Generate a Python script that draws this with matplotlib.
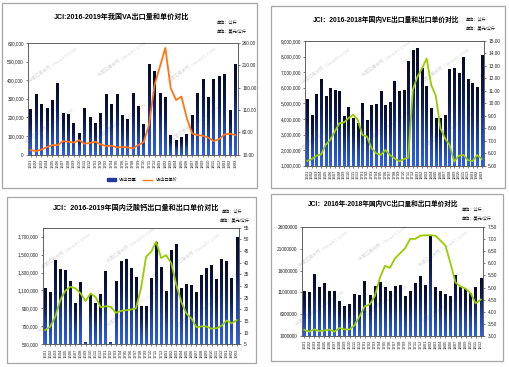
import numpy as np
import matplotlib
matplotlib.use('Agg')
import matplotlib.pyplot as plt
from matplotlib.colors import LinearSegmentedColormap
from matplotlib.patches import Rectangle
from matplotlib.lines import Line2D

plt.rcParams['font.family'] = ['Liberation Sans', 'Noto Sans CJK SC']

W, H = 510, 367

# month labels
months_39 = ['1601', '1602', '1603', '1604', '1605', '1606', '1607', '1608', '1609', '1610', '1611', '1612',
             '1701', '1702', '1703', '1704', '1705', '1706', '1707', '1708', '1709', '1710', '1711', '1712',
             '1801', '1802', '1803', '1804', '1805', '1806', '1807', '1808', '1809', '1810', '1811', '1812',
             '1901', '1902', '1903']
months_36 = months_39[:36]

# VA export volume (kg) and unit price (USD/kg)
va_qty = [245000, 327000, 274000, 250000, 294000, 384000, 222000, 216000, 167000, 117000, 249000, 204000,
          167000, 222000, 326000, 274000, 326000, 211000, 193000, 329000, 263000, 162000, 487000, 449000,
          330000, 308000, 104000, 77000, 92000, 108000, 213000, 330000, 407000, 312000, 407000, 422000,
          432000, 240000, 487000]
va_price = [19.8, 17.5, 21, 26.5, 31, 31, 40, 38.5, 37, 42, 34, 36,
            38.5, 32.5, 29, 29.5, 26, 27, 26, 23.5, 31.5, 38, 78, 166,
            207, 249, 159, 132, 140, 91, 57, 53.5, 52, 47.5, 40, 44.5,
            55, 56.5, 53.5]

# VE export volume and unit price
ve_qty = [5280000, 4270000, 5600000, 6580000, 5500000, 6000000, 5860000, 5780000, 4200000, 4740000,
          4050000, 3750000, 5000000, 3900000, 4870000, 4970000, 5780000, 4900000, 5100000, 6450000,
          5770000, 5860000, 7720000, 8420000, 8530000, 7250000, 6110000, 4720000, 4040000, 4040000,
          4250000, 7180000, 7290000, 6920000, 7990000, 6560000, 6280000, 6070000, 8100000]
ve_price = [5.38, 5.54, 5.8, 5.9, 6.67, 7.07, 7.74, 8.41, 8.47, 8.82, 9.09, 8.68, 7.47, 7.34, 6.4, 6.0,
            5.86, 6.26, 5.86, 5.6, 5.35, 5.53, 5.64, 11.1, 12.14, 12.8, 13.6, 11.47, 10.6, 8.0, 7.2,
            6.66, 5.32, 5.8, 5.86, 5.45, 5.37, 5.86, 5.53]

# calcium pantothenate export volume and unit price
ca_qty = [1123000, 1078000, 1440000, 1336000, 1328000, 1205000, 963000, 1194000, 526000, 1060000,
          963000, 1060000, 1317000, 530000, 1209000, 1433000, 1448000, 1347000, 1246000, 925000,
          925000, 1235000, 1646000, 1358000, 1093000, 1552000, 1619000, 1130000, 1170000, 1157000,
          1078000, 1270000, 1347000, 1384000, 1224000, 1448000, 1429000, 1243000, 1694000]
ca_price = [11.1, 12.6, 16.9, 24, 28, 29.7, 29, 26.9, 23.5, 26.8, 25.2, 20.9, 21.3, 21.1, 18.5, 19.3,
            19.6, 19.9, 20.4, 29, 42.5, 44.6, 49, 42, 43.2, 39.8, 30.5, 23.2, 18.2, 16.1, 12.3, 12.7,
            12.6, 11.7, 11.9, 13, 15.2, 14, 15.4]

# VC export volume and unit price
vc_qty = [11300000, 11150000, 15150000, 12150000, 13100000, 11300000, 11400000, 9000000, 7850000,
          8200000, 10600000, 10400000, 13600000, 10400000, 12500000, 13300000, 12300000, 11300000,
          12500000, 12600000, 10150000, 11300000, 13200000, 14850000, 12600000, 24200000, 12300000,
          11300000, 10600000, 10150000, 15000000, 12300000, 11800000, 10900000, 12300000, 14400000]
vc_price = [3.24, 3.17, 3.26, 3.19, 3.22, 3.25, 3.17, 3.32, 3.26, 3.26, 3.44, 3.82, 4.22, 4.3, 4.65,
            5.4, 5.9, 5.82, 6.21, 6.42, 6.63, 7.02, 7.02, 7.15, 7.17, 7.17, 7.15, 6.95, 6.74, 6.0,
            5.2, 5.04, 4.95, 4.76, 4.34, 4.5]

bar_cmap = LinearSegmentedColormap.from_list('bar', ['#2d5fe8', '#1f43b0', '#0c1a55', '#060b26'])
GRAD = np.linspace(0, 1, 64).reshape(-1, 1)
GREEN = '#99cc00'
ORANGE = '#ff7415'
SPINE = '#555555'


def px_rect(l, t, r, b):
    return [l / W, 1 - b / H, (r - l) / W, (b - t) / H]


def frame(l, t, r, b):
    fig.add_artist(Rectangle((l / W, 1 - b / H), (r - l) / W, (b - t) / H,
                             transform=fig.transFigure, fill=False, ec='#a6a6a6', lw=0.9))


def watermark(ax):
    for (xa, ya) in [(0.12, 0.8), (0.45, 0.85), (0.78, 0.8), (0.1, 0.25), (0.45, 0.3), (0.8, 0.28)]:
        ax.text(xa, ya, '中国汇易微网  ChinaJCI.COM', transform=ax.transAxes, rotation=35,
                fontsize=3.2, color='#d9d9d9', ha='center', va='center', zorder=1)


def panel(rect, cats, qty, price, ylo, yhi, ystep, yfmt, y2lo, y2hi, y2step, y2fmt, lcolor):
    ax = fig.add_axes(rect)
    x = np.arange(len(cats))
    base = [ylo] * len(qty)
    heights = [q - ylo for q in qty]
    bars = ax.bar(x, heights, bottom=base, width=0.5, color='#0c1a55', zorder=2)
    for b in bars:
        bx, by = b.get_x(), b.get_y()
        bw, bh = b.get_width(), b.get_height()
        im = ax.imshow(GRAD, extent=(bx, bx + bw, by, by + bh), origin='lower', aspect='auto',
                       cmap=bar_cmap, zorder=3, interpolation='bilinear')
        im.set_clip_path(b)
    ax.set_xlim(-0.5, len(cats) - 0.5)
    ax.set_ylim(ylo, yhi)
    ticks = np.arange(ylo, yhi + 1, ystep)
    ax.set_yticks(ticks)
    ax.set_yticklabels([yfmt(t) for t in ticks], fontsize=3.4)
    ax.set_xticks(x)
    ax.set_xticklabels(cats, rotation=90, fontsize=3.1)
    ax.tick_params(length=1.5, width=0.4, pad=1.5, colors='#222222')
    for s in ax.spines.values():
        s.set_color(SPINE)
        s.set_linewidth(0.5)
    watermark(ax)

    ax2 = ax.twinx()
    ax2.plot(x, price, color=lcolor, lw=1.3, zorder=4)
    ax2.set_ylim(y2lo, y2hi)
    t2 = np.arange(y2lo, y2hi + y2step / 2, y2step)
    ax2.set_yticks(t2)
    ax2.set_yticklabels([y2fmt(t) for t in t2], fontsize=3.4)
    ax2.tick_params(length=1.5, width=0.4, pad=1.5, colors='#222222')
    for s in ax2.spines.values():
        s.set_color(SPINE)
        s.set_linewidth(0.5)
    return ax, ax2


fig = plt.figure(figsize=(W / 100, H / 100), dpi=100)
fig.patch.set_facecolor('white')

frame(2, 3, 257, 188)
frame(271, 6, 505, 188)
frame(7, 197, 256, 363)
frame(271, 194, 503, 361)

comma = lambda v: '{:,.0f}'.format(v)
plain = lambda v: '{:.0f}'.format(v)
two = lambda v: '{:.2f}'.format(v)

# panel 1 - VA
ax1, ax1b = panel(px_rect(28, 43, 238, 154.5), months_39, va_qty, va_price,
                  0, 600000, 100000, lambda v: '0' if v == 0 else comma(v),
                  10, 260, 50, two, ORANGE)
fig.text(122 / W, 1 - 17 / H, 'JCI:2016-2019年我国VA出口量和单价对比', ha='center', va='center',
         fontsize=5.1, fontweight='bold')
fig.text(217 / W, 1 - 24 / H, '单位：公斤', fontsize=3, va='center')
fig.text(217 / W, 1 - 32 / H, '单位：美元/公斤', fontsize=3, va='center')
handles = [Rectangle((0, 0), 1, 1, color='#1f3a9c'), Line2D([], [], color=ORANGE, lw=1)]
fig.legend(handles, ['VA出口量', 'VA出口单价'], loc='center', bbox_to_anchor=(142 / W, 1 - 180 / H),
           ncol=2, frameon=False, fontsize=3, handlelength=2.2, handleheight=0.6, columnspacing=1.5)

# panel 2 - VE
panel(px_rect(305, 41, 484, 165.7), months_39, ve_qty, ve_price,
      1000000, 9000000, 1000000, comma, 5, 15, 1, two, GREEN)
fig.text(386 / W, 1 - 20 / H, 'JCI：2016-2018年国内VE出口量和出口单价对比', ha='center', va='center',
         fontsize=4.9, fontweight='bold')
fig.text(466 / W, 1 - 21 / H, '单位：公斤', fontsize=3, va='center')
fig.text(466 / W, 1 - 29 / H, '单位：美元/公斤', fontsize=3, va='center')

# panel 3 - calcium pantothenate
panel(px_rect(42.7, 227.7, 239.3, 344.3), months_39, ca_qty, ca_price,
      500000, 1800000, 200000, comma, 5, 55, 5, plain, GREEN)
fig.text(136 / W, 1 - 207.7 / H, 'JCI：2016-2019年国内泛酸钙出口量和出口单价对比', ha='center', va='center',
         fontsize=5.1, fontweight='bold')
fig.text(222 / W, 1 - 212.5 / H, '单位：公斤', fontsize=3, va='center')
fig.text(220 / W, 1 - 220.5 / H, '单位：美元/公斤', fontsize=3, va='center')

# panel 4 - VC
panel(px_rect(301.7, 227.3, 483.3, 335.7), months_36, vc_qty, vc_price,
      1000000, 26000000, 5000000, plain, 3, 7.5, 0.5, two, GREEN)
fig.text(383 / W, 1 - 204 / H, 'JCI：2016年-2018年国内VC出口量和出口单价对比', ha='center', va='center',
         fontsize=4.8, fontweight='bold')
fig.text(462 / W, 1 - 210.5 / H, '单位：公斤', fontsize=3, va='center')
fig.text(462 / W, 1 - 218.5 / H, '单位：美元/公斤', fontsize=3, va='center')

fig.savefig('out.png', dpi=100)
